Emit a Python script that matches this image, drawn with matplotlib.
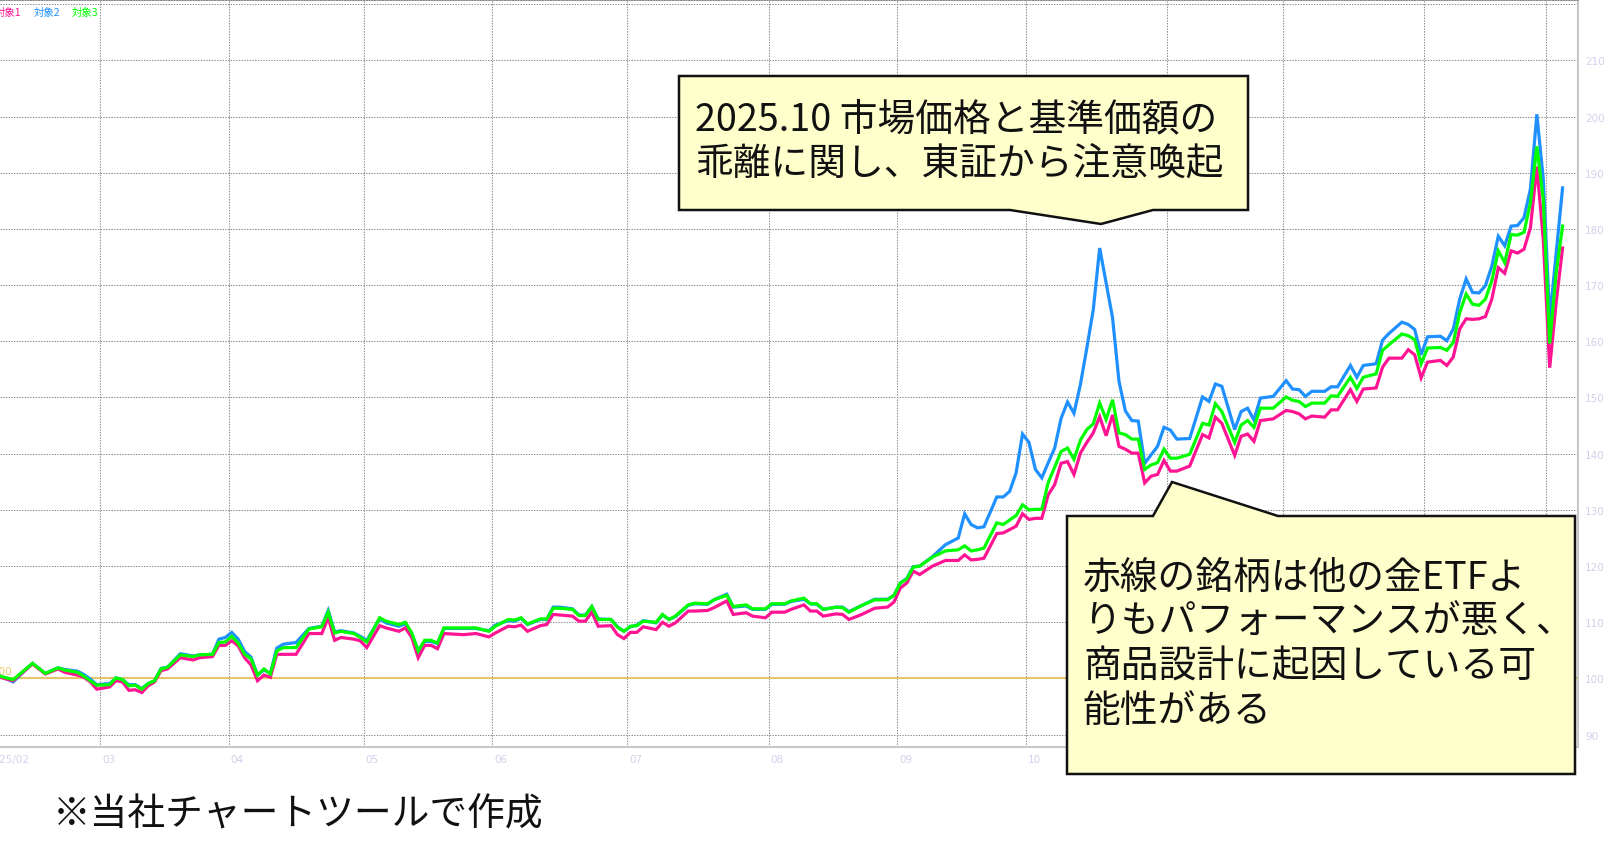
import matplotlib
matplotlib.use('Agg')
import matplotlib.pyplot as plt
from matplotlib.patches import Polygon

# trading-day index of each point (Feb 2025 - Feb 2026)
day = [0, 2, 5, 7, 9, 10, 12, 13, 14, 15,
       17, 18, 19, 20, 21, 22, 23, 24, 25, 26,
       28, 30, 31, 33, 34, 35, 36, 37, 38, 39,
       40, 41, 42, 43, 44, 46, 48, 50, 51, 52,
       53, 55, 56, 57, 59, 60, 62, 63, 64, 65,
       66, 67, 68, 69, 72, 74, 76, 77, 79, 80,
       81, 82, 84, 85, 86, 87, 89, 90, 91, 92,
       93, 95, 96, 97, 98, 99, 100, 102, 103, 104,
       105, 107, 108, 110, 111, 113, 114, 116, 117, 119,
       120, 122, 123, 125, 126, 127, 128, 130, 131, 132,
       134, 136, 138, 139, 140, 141, 142, 143, 145, 147,
       148, 149, 150, 151, 152, 153, 155, 156, 157, 158,
       159, 160, 161, 162, 163, 164, 165, 166, 167, 168,
       169, 170, 171, 172, 173, 174, 175, 176, 177, 178,
       179, 180, 181, 182, 183, 185, 187, 188, 189, 190,
       192, 193, 194, 195, 196, 198, 200, 201, 202, 203,
       204, 206, 207, 208, 210, 211, 212, 214, 215, 216,
       218, 219, 220, 221, 222, 224, 225, 226, 227, 228,
       229, 230, 231, 232, 233, 234, 235, 236, 237, 238,
       239, 240, 241, 242, 243]

# 対象1 (pink)
s1 = [100.2, 99.6, 102.6, 100.8, 101.7, 101.1, 100.6, 100.2, 99.4, 98.1,
      98.5, 99.6, 99.4, 97.9, 98.0, 97.5, 98.7, 99.4, 101.4, 101.7,
      103.7, 103.3, 103.7, 103.9, 105.9, 105.9, 106.7, 105.8, 103.7, 102.4,
      99.6, 100.6, 100.2, 104.3, 104.3, 104.3, 108.0, 108.0, 110.8, 106.8,
      107.3, 107.0, 106.7, 105.5, 109.4, 109.0, 108.4, 109.0, 107.3, 103.7,
      105.9, 105.9, 105.3, 108.0, 107.8, 108.0, 107.4, 108.1, 109.3, 109.2,
      109.5, 108.4, 109.4, 109.6, 111.4, 111.3, 111.1, 110.2, 110.2, 111.8,
      109.3, 109.4, 107.8, 107.1, 108.2, 108.2, 109.2, 108.7, 110.0, 109.3,
      109.9, 112.0, 112.0, 112.1, 112.6, 113.8, 111.4, 111.7, 111.1, 110.8,
      111.8, 111.8, 112.3, 113.1, 112.0, 112.0, 111.1, 111.5, 111.4, 110.5,
      111.4, 112.5, 112.7, 113.6, 116.1, 117.0, 119.1, 118.5, 120.0, 121.0,
      121.0, 121.0, 122.0, 121.1, 121.2, 121.4, 125.8, 125.9, 126.5, 127.1,
      129.3, 128.3, 128.5, 128.5, 132.7, 134.5, 138.3, 138.6, 136.3, 140.1,
      142.0, 143.7, 146.6, 143.2, 146.9, 141.3, 140.8, 140.1, 140.1, 134.8,
      136.0, 136.3, 138.8, 136.9, 136.9, 137.8, 143.4, 142.8, 146.5, 145.4,
      139.7, 143.1, 143.5, 142.2, 145.9, 146.2, 147.7, 147.5, 147.1, 146.2,
      146.7, 146.5, 147.8, 147.8, 151.4, 149.3, 151.5, 151.7, 155.4, 157.0,
      157.0, 158.5, 157.6, 153.5, 156.3, 156.6, 155.7, 157.2, 162.2, 164.0,
      163.9, 164.0, 164.4, 167.5, 173.1, 172.1, 176.1, 175.7, 176.4, 180.2,
      191.1, 178.1, 155.3, 166.9, 176.6]

# 対象2 (blue)
s2 = [100.4, 99.4, 102.7, 100.9, 101.9, 101.6, 101.3, 100.7, 99.9, 98.9,
      99.1, 100.1, 99.8, 98.9, 98.9, 98.2, 99.1, 99.6, 101.8, 102.0,
      104.4, 104.0, 104.2, 104.3, 107.0, 107.3, 108.2, 107.0, 104.8, 103.8,
      100.6, 101.5, 100.9, 105.4, 106.1, 106.4, 108.9, 109.3, 112.1, 108.3,
      108.5, 108.1, 107.5, 106.8, 110.6, 109.9, 109.3, 109.7, 108.0, 104.9,
      106.6, 106.6, 106.2, 108.9, 108.9, 108.9, 108.5, 109.5, 110.3, 110.2,
      110.7, 109.6, 110.5, 110.5, 112.7, 112.7, 112.4, 111.3, 111.3, 112.8,
      110.6, 110.5, 109.2, 108.4, 109.2, 109.5, 110.3, 109.9, 111.3, 110.5,
      111.0, 113.0, 113.3, 113.2, 114.0, 115.0, 112.7, 112.9, 112.3, 112.3,
      113.2, 113.2, 113.7, 114.1, 113.3, 113.2, 112.3, 112.7, 112.7, 111.9,
      113.0, 114.1, 114.1, 114.8, 117.0, 117.8, 119.9, 120.0, 121.7, 123.8,
      124.4, 125.0, 129.3, 127.4, 126.8, 127.0, 132.3, 132.3, 133.3, 136.6,
      143.5, 142.0, 137.2, 135.7, 138.4, 141.0, 146.3, 149.2, 147.2, 152.3,
      158.8, 165.6, 176.6, 170.4, 164.2, 152.9, 147.6, 145.9, 145.8, 138.3,
      139.8, 141.3, 144.7, 144.2, 142.6, 142.7, 150.1, 149.3, 152.4, 152.0,
      144.3, 147.5, 148.1, 146.0, 149.9, 150.2, 153.0, 151.5, 151.4, 150.2,
      151.1, 151.1, 151.9, 151.9, 155.7, 153.6, 155.7, 156.0, 160.2, 161.4,
      163.4, 163.0, 162.1, 157.6, 160.8, 160.9, 160.1, 162.2, 167.5, 171.1,
      168.7, 168.6, 169.9, 173.4, 178.7, 177.0, 180.5, 180.6, 182.0, 187.1,
      200.4, 188.8, 163.9, 175.7, 187.3]

# 対象3 (green)
s3 = [100.4, 99.8, 102.7, 100.9, 101.9, 101.5, 101.1, 100.4, 99.6, 98.8,
      98.9, 100.1, 99.8, 98.7, 98.8, 98.1, 99.1, 99.6, 101.7, 102.0,
      104.2, 103.9, 104.2, 104.3, 106.4, 106.5, 107.5, 106.3, 104.3, 103.5,
      100.6, 101.7, 100.8, 104.9, 105.5, 105.5, 108.8, 109.2, 111.8, 108.1,
      108.4, 108.0, 107.3, 106.5, 110.8, 110.2, 109.6, 110.0, 108.1, 104.9,
      106.8, 106.8, 106.3, 109.0, 109.0, 109.0, 108.4, 109.3, 110.5, 110.4,
      110.8, 109.7, 110.6, 110.6, 112.5, 112.5, 112.3, 111.2, 111.2, 112.8,
      110.5, 110.5, 109.1, 108.4, 109.3, 109.4, 110.2, 110.0, 111.4, 110.5,
      111.1, 113.1, 113.4, 113.3, 114.0, 114.8, 112.8, 113.1, 112.4, 112.4,
      113.3, 113.3, 113.8, 114.3, 113.3, 113.3, 112.3, 112.7, 112.6, 111.8,
      113.0, 114.0, 114.0, 114.8, 117.0, 117.7, 119.8, 120.0, 121.6, 122.7,
      122.8, 122.9, 123.6, 122.7, 122.9, 123.2, 127.7, 127.4, 128.2, 129.0,
      130.9, 130.0, 130.1, 130.1, 134.9, 137.6, 140.4, 141.0, 139.0, 142.4,
      144.3, 145.3, 149.0, 146.1, 149.6, 143.7, 143.4, 142.6, 142.6, 137.2,
      138.0, 138.4, 140.8, 139.2, 139.2, 139.9, 145.4, 145.1, 148.9, 147.5,
      142.0, 145.1, 145.9, 144.7, 148.1, 148.1, 150.1, 149.5, 149.3, 148.4,
      149.0, 149.0, 150.3, 150.2, 153.6, 151.6, 153.6, 154.2, 158.4, 159.4,
      161.3, 161.0, 160.3, 156.0, 158.8, 158.9, 158.4, 159.8, 165.1, 168.4,
      166.6, 166.4, 167.5, 170.8, 176.1, 174.0, 179.0, 178.9, 179.4, 184.6,
      194.7, 185.2, 159.6, 172.2, 180.5]

# first trading day of each month, and the month labels
month_start = [-2, 16, 36, 57, 77, 98, 120, 140, 160, 182, 200, 222, 241]
month_lab = ['2025/02', '03', '04', '05', '06', '07', '08', '09', '10',
             '11', '12', '2026/01', '02']
y_ticks = list(range(90, 221, 10))

names = ['対象1', '対象2', '対象3']
cols = ['#ff1493', '#1e90ff', '#00ff00']

note_top = ['2025.10 市場価格と基準価額の', '乖離に関し、東証から注意喚起']
note_bot = ['赤線の銘柄は他の金ETFよ', 'りもパフォーマンスが悪く、',
            '商品設計に起因している可', '能性がある']
foot = '※当社チャートツールで作成'

W, H = 1604, 862
JP = ['Noto Sans CJK JP', 'DejaVu Sans']
big = 27.2

def fx(x):
    return x / W

def fy(y):
    return 1 - y / H

fig = plt.figure(figsize=(W / 100, H / 100), dpi=100)
ax = fig.add_axes([0, fy(748), fx(1578), (748 - 1) / H])
ax.set_xlim(-0.05, 245.4)
ax.set_ylim(87.81, 220.73)

grid_col = '#8c8c8c'
dot = (0, (1.3, 1.3))
for m in month_start[1:]:
    ax.axvline(m - 0.5, color=grid_col, lw=0.75, ls=dot, zorder=1)
for v in y_ticks:
    ax.axhline(v, color=grid_col, lw=0.75, ls=dot, zorder=1)

ax.axhline(100, color='#e8c468', lw=1.5, zorder=2)
ax.annotate('100', xy=(0, 100), xycoords=('axes fraction', 'data'),
            xytext=(12, 2), textcoords='offset pixels', ha='right', va='bottom',
            color='#e8c468', fontsize=7.5)

# draw blue first, then pink, then green on top
for i in [1, 0, 2]:
    ax.plot(day, [s1, s2, s3][i], color=cols[i], lw=2.3, zorder=3,
            solid_joinstyle='miter')

ax.yaxis.tick_right()
ax.set_yticks(y_ticks)
ax.set_yticklabels([str(v) if v <= 210 else '' for v in y_ticks])
ax.tick_params(axis='y', length=0, pad=5, labelsize=7.5, labelcolor='#d0d0ec')
ax.set_xticks([])

for m, lab in zip(month_start, month_lab):
    ax.annotate(lab, xy=(m - 0.5, 0), xycoords=('data', 'axes fraction'),
                xytext=(2, -7), textcoords='offset pixels', ha='left', va='top',
                color='#d0d0ec', fontsize=7.5, annotation_clip=False)

ax.spines['left'].set_visible(False)
ax.spines['top'].set_color(grid_col)
ax.spines['top'].set_linewidth(0.75)
ax.spines['top'].set_linestyle(dot)
for side in ['bottom', 'right']:
    ax.spines[side].set_color('#c8c8c8')
    ax.spines[side].set_linewidth(1.5)

# legend texts at the top left (first one runs off the edge, as in the original)
for n, c, x in zip(names, cols, [-5, 34, 72]):
    fig.text(fx(x), fy(13), n, color=c, fontsize=7.5, family=JP, va='center')

# call-out boxes
box_top = [(679, 77), (1248, 77), (1248, 211), (1153, 211), (1101, 225),
           (1010, 211), (679, 211)]
box_bot = [(1067, 517), (1153, 517), (1172, 483), (1278, 517), (1575, 517),
           (1575, 775), (1067, 775)]
for pts in [box_top, box_bot]:
    fig.add_artist(Polygon([(fx(x), fy(y)) for x, y in pts], closed=True,
                           transform=fig.transFigure, facecolor='#ffffcc',
                           edgecolor='#111111', lw=1.8, joinstyle='miter'))

for k, t in enumerate(note_top):
    fig.text(fx(695), fy(120 + 44 * k), t, fontsize=big, family=JP,
             va='center', color='#111111')
for k, t in enumerate(note_bot):
    fig.text(fx(1083), fy(578 + 44.5 * k), t, fontsize=big, family=JP,
             va='center', color='#111111')

fig.text(fx(53), fy(814), foot, fontsize=big, family=JP, va='center',
         color='#111111')

fig.savefig('out.png', dpi=100)
